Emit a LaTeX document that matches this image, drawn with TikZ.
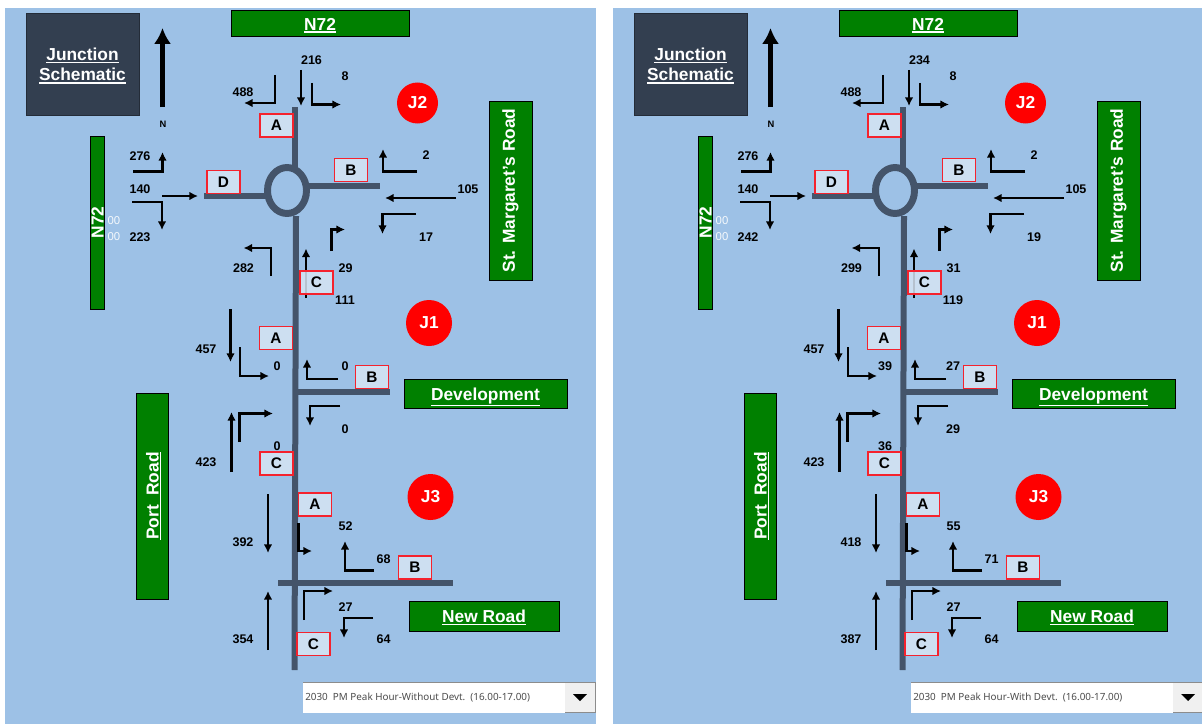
\documentclass[tikz,border=0pt]{standalone}
\usepackage{fontspec}
\usepackage{xcolor}
\usepackage{tikz}
\usetikzlibrary{arrows.meta,positioning,shapes.geometric}
\setmainfont{Liberation Sans}
\newfontfamily\dropfont{Noto Sans}
\definecolor{panelblue}{HTML}{9DC1E6}
\definecolor{roadgrey}{HTML}{44546A}
\definecolor{slatebox}{HTML}{333F50}
\definecolor{roadgreen}{HTML}{008000}
\definecolor{palelabel}{HTML}{D6E5F4}
\definecolor{redline}{HTML}{F5222D}
\newcommand{\roadul}[1]{\leavevmode\raisebox{0pt}[1.45ex][0pt]{\vtop{\hbox{#1}\kern.9pt\hrule height .9pt}}}

\begin{document}
\begin{tikzpicture}[
  x=.75pt,y=-.75pt,
  road/.style={line width=4.5pt,draw=roadgrey},
  flow/.style={-{Latex[length=6.4pt,width=6.4pt]},line width=1.7pt,draw=black},
  qty/.style={font=\fontsize{9.4}{11}\selectfont\bfseries,text=black,inner sep=0pt},
  legbox/.style={draw=redline,line width=1.1pt,fill=palelabel,fill opacity=.85,text opacity=1,minimum width=25pt,minimum height=17pt,inner sep=0pt,font=\fontsize{11.5}{13}\selectfont\bfseries},
  greenbox/.style={draw=black,line width=.7pt,fill=roadgreen,text=white,inner sep=0pt,font=\fontsize{13}{15}\selectfont\bfseries},
  redspot/.style={circle,fill=red,text=white,inner sep=0pt,font=\fontsize{13}{15}\selectfont\bfseries}
]
\useasboundingbox (0,0) rectangle (1202,724);
\clip (0,0) rectangle (1202,724);
\fill[white] (0,0) rectangle (1202,724);

\foreach \xs/\devt/\qnl/\qnt/\qnr/\qer/\qet/\qel/\qsr/\qst/\qsl/\qwl/\qwt/\qwr/\qAt/\qAl/\qBl/\qBr/\qCt/\qCr/\qDt/\qDl/\qEl/\qFt/\qFr/\qFl in {
  0/Without/488/216/8/2/105/17/29/111/282/276/140/223/457/0/0/0/423/0/392/52/68/354/27/64,
  608/With/488/234/8/2/105/19/31/119/299/276/140/242/457/39/27/29/423/36/418/55/71/387/27/64}
{
\begin{scope}[shift={(\xs,0)},name prefix=p\xs-]
\fill[panelblue] (5,8) rectangle (596,724);

% titles and road names
\node[draw=slatebox!70!black,fill=slatebox,minimum width=84.75pt,minimum height=76.5pt,align=center,text=white,font=\fontsize{13}{15.5}\selectfont\bfseries] (title) at (82.5,64) {\roadul{Junction}\\\roadul{Schematic}};
\draw[-{Latex[length=12pt,width=13pt]},line width=4.2pt] (162.5,107) -- (162.5,28);
\node[font=\fontsize{7}{8}\selectfont\bfseries] (north) at (163,124) {N};
\node[greenbox,minimum width=133.5pt,minimum height=20pt] (n72top) at (320,23.5) {\roadul{N72}};
\node[greenbox,rotate=90,minimum width=129.75pt,minimum height=10.5pt] (n72left) at (97.5,222.5) {N72};
\node[text=white!90!panelblue,font=\fontsize{8.5}{10}\selectfont,inner sep=0pt] (zeroa) at (114,221) {00};
\node[text=white!90!panelblue,font=\fontsize{8.5}{10}\selectfont,inner sep=0pt] (zerob) at (114,237) {00};
\node[greenbox,rotate=90,minimum width=134.25pt,minimum height=32.25pt] (margaret) at (510.5,190.5) {St. Margaret's Road};
\node[greenbox,minimum width=122.25pt,minimum height=21.75pt] (devbox) at (485.5,393.5) {\roadul{Development}};
\node[greenbox,minimum width=112.5pt,minimum height=22.5pt] (newroad) at (484,616) {\roadul{New Road}};
\node[greenbox,rotate=90,minimum width=154.5pt,minimum height=24pt] (port) at (152,496) {\roadul{Port\ \ Road}};
\node[redspot,minimum size=30.75pt] (jtwo) at (417.5,103) {J2};
\node[redspot,minimum size=34.5pt] (jone) at (429,323) {J1};
\node[redspot,minimum size=34.5pt] (jthree) at (430.5,497) {J3};

% roads
\draw[road] (295,107) -- (295,168);
\draw[road] (204,196) -- (266,196);
\draw[road] (309,186) -- (380,186);
\draw[road] (296,216) -- (294.5,670);
\draw[road] (296,392) -- (390,392);
\draw[road] (278,582.5) -- (453,582.5);
\draw[road,line width=5.2pt] (287,190.5) ellipse (19.5 and 23);

% J2 movements
\draw[flow] (275,75) -- (275,103) -- (244,103);
\draw[flow] (301,70) -- (301,106);
\draw[flow] (312,83) -- (312,104.5) -- (341,104.5);
\draw[flow] (417,171.5) -- (383,171.5) -- (383,149);
\draw[flow,line width=1.4pt] (456,198) -- (385,198);
\draw[flow] (416,214) -- (382.5,214) -- (382.5,234);
\draw[flow] (331.5,251) -- (331.5,229.5) -- (345,229.5);
\draw[flow,line width=1.4pt] (306,298) -- (306,248.5);
\draw[flow] (271,276) -- (271,248) -- (243.5,248);
\draw[flow] (133,171.5) -- (162.5,171.5) -- (162.5,152);
\draw[flow] (162,196) -- (198,196);
\draw[flow] (132,202) -- (162,202) -- (162,230);

% J1 movements
\draw[flow] (230.5,309) -- (230.5,362);
\draw[flow] (240,347) -- (240,376) -- (269,376);
\draw[flow] (338,379) -- (307,379) -- (307,359);
\draw[flow] (340,406) -- (310,406) -- (310,426);
\draw[flow] (231.5,472) -- (231.5,412);
\draw[flow] (239.5,442) -- (239.5,413.5) -- (273,413.5);

% J3 movements
\draw[flow] (268,494) -- (268,553);
\draw[flow] (298.5,523) -- (298.5,551) -- (312,551);
\draw[flow] (374,570.5) -- (345,570.5) -- (345,541);
\draw[flow] (268,650) -- (268,591);
\draw[flow] (304,620) -- (304,591) -- (333,591);
\draw[flow] (373,618) -- (344,618) -- (344,638);

% arm labels
\node[legbox] (armA) at (276.5,125.5) {A};
\node[legbox] (armD) at (223.5,182) {D};
\node[legbox] (armB) at (351,170) {B};
\node[legbox] (armC) at (316.5,282.5) {C};
\node[legbox] (midA) at (276,338) {A};
\node[legbox] (midB) at (372,377) {B};
\node[legbox] (midC) at (276.5,463.5) {C};
\node[legbox] (lowA) at (315,504.5) {A};
\node[legbox] (lowB) at (415,567.5) {B};
\node[legbox] (lowC) at (313.5,644) {C};

% flow values
\node[qty] (nl) at (243,92) {\qnl};
\node[qty] (nt) at (311.5,60) {\qnt};
\node[qty] (nr) at (345,76) {\qnr};
\node[qty] (er) at (426,155.5) {\qer};
\node[qty] (et) at (468,189) {\qet};
\node[qty] (el) at (426,237) {\qel};
\node[qty] (sr) at (345.5,268.5) {\qsr};
\node[qty] (st) at (345,300.5) {\qst};
\node[qty] (sl) at (243.5,268.5) {\qsl};
\node[qty] (wl) at (140,156) {\qwl};
\node[qty] (wt) at (140,189) {\qwt};
\node[qty] (wr) at (140,237) {\qwr};
\node[qty] (at) at (206,349.5) {\qAt};
\node[qty] (al) at (277,366) {\qAl};
\node[qty] (bl) at (345,366) {\qBl};
\node[qty] (br) at (345,429.5) {\qBr};
\node[qty] (ct) at (206,462.5) {\qCt};
\node[qty] (cr) at (277,446.5) {\qCr};
\node[qty] (dt) at (243,542.5) {\qDt};
\node[qty] (dl) at (345.5,526.5) {\qDl};
\node[qty] (ee) at (383.5,559) {\qEl};
\node[qty] (ft) at (243,639.5) {\qFt};
\node[qty] (fr) at (345.5,607.5) {\qFr};
\node[qty] (fl) at (383.5,639.5) {\qFl};

% dropdown
\fill[white] (303,682) rectangle (565,713);
\fill[black!6] (565,682) rectangle (595,712);
\draw[black!45,line width=.6pt] (303,682) -- (595,682) -- (595,712) -- (565,712);
\node[anchor=west,text=black!70,inner sep=0pt,font=\dropfont\fontsize{7.4}{9}\selectfont] (droptext) at (305,698) {2030\ \ PM Peak Hour-\devt\ Devt.\ \ (16.00-17.00)};
\fill (573,694) -- (587,694) -- (580,701) -- cycle;
\end{scope}
}
\end{tikzpicture}
\end{document}
